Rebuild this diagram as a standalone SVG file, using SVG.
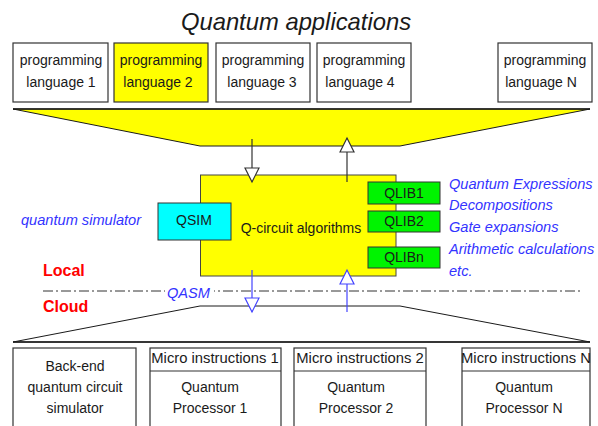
<svg xmlns="http://www.w3.org/2000/svg" width="598" height="426" viewBox="0 0 598 426">
<style>
.t{font-family:"Liberation Sans",Arial,sans-serif;font-size:14px;fill:#1a1a1a;text-anchor:middle}
.box{fill:#fff;stroke:#333;stroke-width:1.2}
.lbl{font-family:"Liberation Sans",Arial,sans-serif;font-size:14.6px;font-style:italic;fill:#3333ff}
.red{font-family:"Liberation Sans",Arial,sans-serif;font-size:16px;font-weight:bold;fill:#ff0000}
.lib{fill:#00f400;stroke:#333;stroke-width:1}
</style>
<defs>
<marker id="ak" markerUnits="userSpaceOnUse" markerWidth="16" markerHeight="16" refX="14" refY="7" orient="auto" overflow="visible">
<path d="M0,0 L14,7 L0,14 z" fill="#fff" stroke="#333" stroke-width="1.2"/>
</marker>
<marker id="ab" markerUnits="userSpaceOnUse" markerWidth="16" markerHeight="16" refX="14" refY="7" orient="auto" overflow="visible">
<path d="M0,0 L14,7 L0,14 z" fill="#fff" stroke="#4444ff" stroke-width="1.2"/>
</marker>
</defs>
<rect width="598" height="426" fill="#fff"/>
<text x="296" y="30" font-family="Liberation Sans,Arial,sans-serif" font-size="23.8" font-style="italic" fill="#1a1a1a" text-anchor="middle">Quantum applications</text>

<g id="pl1"><rect class="box" x="13" y="43" width="95" height="59"/><text class="t" x="61" y="65">programming</text><text class="t" x="61" y="87">language 1</text></g>
<g id="pl2"><rect class="box" x="114" y="43" width="94" height="59" style="fill:#ffff00"/><text class="t" x="161" y="65">programming</text><text class="t" x="158" y="87">language 2</text></g>
<g id="pl3"><rect class="box" x="216" y="43" width="94" height="59"/><text class="t" x="263" y="65">programming</text><text class="t" x="262" y="87">language 3</text></g>
<g id="pl4"><rect class="box" x="317" y="43" width="94" height="59"/><text class="t" x="364" y="65">programming</text><text class="t" x="360" y="87">language 4</text></g>
<g id="plN"><rect class="box" x="498" y="43" width="94" height="59"/><text class="t" x="545" y="65">programming</text><text class="t" x="541" y="87">language N</text></g>

<g id="funnel-top"><polygon points="13,109 590,109 400,146 200,146" fill="#ffff00" stroke="#1a1a1a" stroke-width="1"/><line x1="13" y1="109" x2="590" y2="109" stroke="#1a1a1a" stroke-width="1.6"/></g>

<g id="qcircuit"><rect x="200.5" y="175" width="195.5" height="101" fill="#ffff00" stroke="#444" stroke-width="1"/><text class="t" x="301" y="233">Q-circuit algorithms</text></g>
<g id="qsim"><rect x="158" y="203" width="73" height="37" fill="#00ffff" stroke="#333" stroke-width="1"/><text class="t" x="194" y="225">QSIM</text></g>
<g id="qlib1"><rect class="lib" x="368" y="182" width="72" height="22"/><text class="t" x="404" y="198">QLIB1</text></g>
<g id="qlib2"><rect class="lib" x="368" y="211" width="72" height="21"/><text class="t" x="404" y="226">QLIB2</text></g>
<g id="qlibn"><rect class="lib" x="368" y="247" width="72" height="21"/><text class="t" x="404" y="262">QLIBn</text></g>

<g id="lib-labels">
<text class="lbl" x="449" y="189">Quantum Expressions</text>
<text class="lbl" x="449" y="210">Decompositions</text>
<text class="lbl" x="449" y="232">Gate expansions</text>
<text class="lbl" x="449" y="254">Arithmetic calculations</text>
<text class="lbl" x="449" y="276">etc.</text>
</g>
<text class="lbl" x="21" y="225">quantum simulator</text>
<text class="red" x="43" y="276">Local</text>
<text class="red" x="43" y="312">Cloud</text>

<g id="divider"><line x1="43" y1="291" x2="582" y2="291" stroke="#333" stroke-width="1" stroke-dasharray="10 3 2 3"/><rect x="165" y="283" width="49" height="16" fill="#fff"/><text class="lbl" x="167" y="298">QASM</text></g>

<g id="funnel-bottom"><polygon points="200,306 400,306 590,342 13,342" fill="#fff" stroke="#1a1a1a" stroke-width="1"/><line x1="13" y1="342" x2="590" y2="342" stroke="#1a1a1a" stroke-width="1.4"/></g>

<g id="connectors" fill="none">
<line x1="252" y1="139" x2="252" y2="182" stroke="#333" stroke-width="1.2" marker-end="url(#ak)"/>
<line x1="347" y1="182" x2="347" y2="138" stroke="#333" stroke-width="1.2" marker-end="url(#ak)"/>
<line x1="252" y1="270" x2="252" y2="312" stroke="#4444ff" stroke-width="1.2" marker-end="url(#ab)"/>
<line x1="347" y1="312" x2="347" y2="270" stroke="#4444ff" stroke-width="1.2" marker-end="url(#ab)"/>
</g>

<g id="backend"><rect class="box" x="13" y="348" width="123" height="84"/><text class="t" x="75" y="371">Back-end</text><text class="t" x="75" y="392">quantum circuit</text><text class="t" x="75" y="413">simulator</text></g>
<g id="qp1"><rect class="box" x="150" y="348" width="131" height="84"/><line x1="150" y1="371" x2="281" y2="371" stroke="#333" stroke-width="1.2"/><text class="t" x="215" y="363" style="font-size:14.8px">Micro instructions 1</text><text class="t" x="210" y="392">Quantum</text><text class="t" x="210" y="413">Processor 1</text></g>
<g id="qp2"><rect class="box" x="294" y="348" width="132" height="84"/><line x1="294" y1="371" x2="426" y2="371" stroke="#333" stroke-width="1.2"/><text class="t" x="360" y="363" style="font-size:14.8px">Micro instructions 2</text><text class="t" x="356" y="392">Quantum</text><text class="t" x="356" y="413">Processor 2</text></g>
<g id="qpN"><rect class="box" x="462" y="348" width="128" height="84"/><line x1="462" y1="371" x2="590" y2="371" stroke="#333" stroke-width="1.2"/><text class="t" x="526" y="363" style="font-size:14.8px">Micro instructions N</text><text class="t" x="524" y="392">Quantum</text><text class="t" x="524" y="413">Processor N</text></g>
</svg>
